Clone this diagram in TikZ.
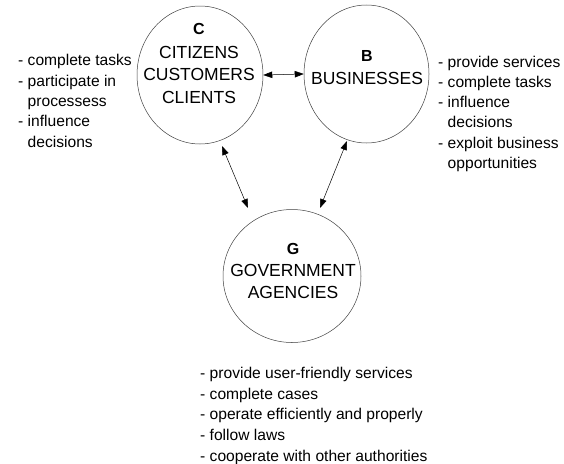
\documentclass[tikz,border=0pt]{standalone}
\usepackage{fontspec}
\setmainfont{Liberation Sans}
\usetikzlibrary{shapes.geometric,arrows.meta}
\begin{document}
\begin{tikzpicture}[x=1pt,y=-1pt,
  ell/.style={ellipse,draw=black!75,line width=0.5pt,inner sep=0pt},
  tag/.style={font=\fontsize{16}{18}\selectfont\bfseries,anchor=base,inner sep=0pt},
  words/.style={font=\fontsize{17.5}{22.5}\selectfont,align=center,anchor=north,inner sep=0pt},
  list/.style={font=\fontsize{15.6}{20.3}\selectfont,align=left,anchor=north west,inner sep=0pt},
  link/.style={{Triangle[length=9pt,width=6.5pt]}-{Triangle[length=9pt,width=6.5pt]},line width=0.5pt,black}]
\fill[white] (0,0) rectangle (564,463);
\useasboundingbox (0,0) rectangle (564,463);
% ellipses
\node[ell,minimum width=126pt,minimum height=138pt] (C) at (200,75) {};
\node[ell,minimum width=125pt,minimum height=138pt] (B) at (366.5,74) {};
\node[ell,minimum width=138pt,minimum height=133pt] (G) at (292,276) {};
% labels
\node[tag] (Ctag) at (199,34) {C};
\node[words] (Cw) at (199,45.8) {CITIZENS\\CUSTOMERS\\CLIENTS};
\node[tag] (Btag) at (367,61) {B};
\node[words] (Bw) at (367,71.8) {BUSINESSES};
\node[tag] (Gtag) at (293,254) {G};
\node[words] (Gw) at (293,263.8) {GOVERNMENT\\AGENCIES};
% lists
\node[list] (Cl) at (18,54.3) {- complete tasks\\- participate in\\\phantom{- }processess\\- influence\\\phantom{- }decisions};
\node[list] (Bl) at (438,55.5) {- provide services\\- complete tasks\\- influence\\\phantom{- }decisions\\- exploit business\\\phantom{- }opportunities};
\node[list,font=\fontsize{15.6}{20.7}\selectfont] (Gl) at (200,366.8) {- provide user-friendly services\\- complete cases\\- operate efficiently and properly\\- follow laws\\- cooperate with other authorities};
% connectors
\coordinate (cgA) at (222,146);
\coordinate (cgB) at (248,208);
\coordinate (bgA) at (347,141);
\coordinate (bgB) at (320,208);
\draw[link] (C.east) -- (B.west);
\draw[link] (cgA) -- (cgB);
\draw[link] (bgA) -- (bgB);
\end{tikzpicture}
\end{document}
